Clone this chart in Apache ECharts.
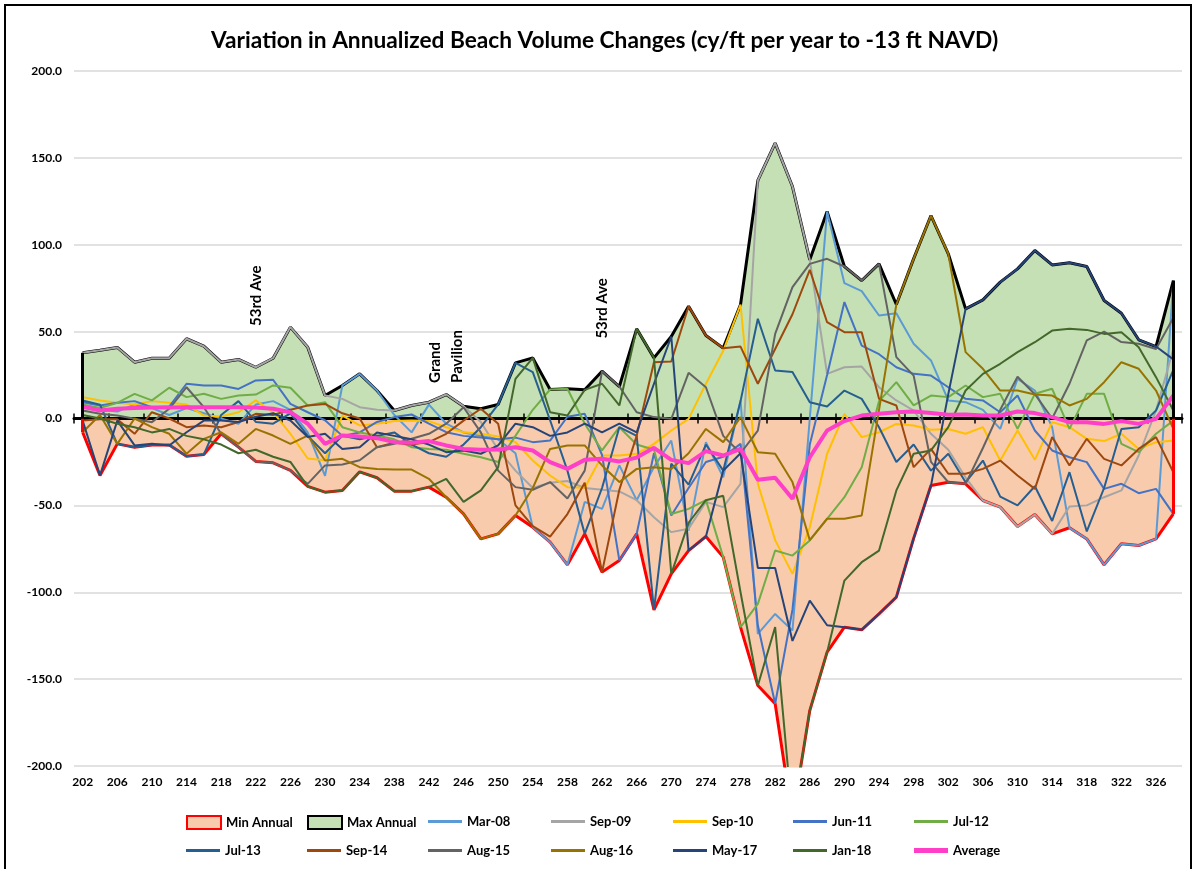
<!DOCTYPE html>
<html>
<head>
<meta charset="UTF-8">
<title>Annualized Beach Volume Changes</title>
<script src="https://cdn.jsdelivr.net/npm/echarts@6.0.0/dist/echarts.min.js"></script>
<style>
  html, body { margin: 0; padding: 0; overflow: hidden; background: #fff; }
  #frame { position: absolute; left: 4px; top: 4px; width: 1188px; height: 900px; border: 2px solid #000; box-sizing: border-box; }
  #chart1 { position: absolute; left: 0; top: 0; width: 1195px; height: 869px; }
</style>
</head>
<body>
<div id="frame"></div>
<div id="chart1"></div>
<script type="text/javascript">
// station numbers along the beach (category axis)
var stations = ['202','204','206','208','210','212','214','216','218','220',
  '222','224','226','228','230','232','234','236','238','240',
  '242','244','246','248','250','252','254','256','258','260',
  '262','264','266','268','270','272','274','276','278','280',
  '282','284','286','288','290','292','294','296','298','300',
  '302','304','306','308','310','312','314','316','318','320',
  '322','324','326','328'];

var yTicks = [-200, -150, -100, -50, 0, 50, 100, 150, 200];

// envelope series
var minAnnual = [-7.9, -32.8, -14.6, -16.5, -15.2, -15.2, -21.7, -20.7, -8.8, -16.5,
  -24.7, -25.5, -29.9, -39.1, -42.4, -41.4, -30.7, -34.1, -41.8, -41.8,
  -39.5, -45.3, -54.9, -69.3, -66.4, -55.8, -62.6, -71.2, -84.2, -66.4,
  -88.4, -81.7, -66.4, -110.1, -89.4, -76.0, -67.9, -79.8, -120.1, -153.7,
  -164.2, -230, -168.1, -134.5, -120.1, -121.6, -112.4, -102.8, -69, -38.6,
  -36.7, -37.6, -47.2, -51.0, -62.2, -55.3, -66.4, -62.9, -69.3, -84.2,
  -72.1, -73.1, -69.3, -54.9];
var maxAnnual = [37.8, 39.3, 40.9, 32.4, 34.7, 34.7, 45.9, 41.6, 32.4, 34.0,
  29.5, 34.7, 52.6, 41.0, 13.2, 19.0, 25.7, 16.1, 4.6, 7.5,
  9.4, 13.8, 7.1, 5.6, 8.1, 32.0, 34.9, 16.7, 17.1, 16.5,
  27.2, 18.4, 51.6, 34.9, 47.2, 64.6, 47.8, 40.5, 65.6, 137.0,
  158.5, 133.5, 91.3, 119.1, 87.5, 79.4, 89.0, 65.6, 92.0, 116.8,
  94.8, 63.1, 68.3, 78.5, 86.1, 96.7, 88.4, 89.6, 87.5, 67.9,
  60.6, 45.3, 41.4, 79.4];

// individual surveys
var mar08 = [6, 5, 4, 8, 6, 2, 6, 3, 0, -3,
  8, 10, 5, -8, -33, 19, 25.7, 16.1, 2, -8,
  8, -3, -8, -10, -12, -20, -62.6, -71.2, -84.2, -48,
  -52, -27, -47, -28, -12.7, -64.5, -13.6, -33.8, 10.4, -124,
  -112.5, -122, 0, 119.1, 77.9, 73.3, 59.3, 60.6, 43, 33.4,
  10.4, 9.4, 5, -6, 22.8, 16.1, -5, -62.9, -69.3, -84.2,
  -72.1, -73.1, -69.3, 79.4];
var sep09 = [37.8, 39.3, 40.9, 32.4, 34.7, 34.7, 45.9, 41.6, 32.4, 34.0,
  29.5, 34.7, 52.6, 41.0, 13.2, 11.3, 6.5, 5.0, 4.6, 7.5,
  9.4, 13.8, 7.1, -2, -18, -30, -40, -37, -36, -40,
  -41, -42, -47, -56.8, -65.4, -63.5, -48, -51, -37.6, 137.0,
  158.5, 133.5, 91.3, 25.7, 29.5, 29.9, 18, 10.4, 4.6, -8.8,
  -18, -34, -47.2, -51.0, -62.2, -55.3, -66.4, -50.6, -50, -45.3,
  -41.4, -21.3, 4.6, 40];
var sep10 = [12.3, 10.4, 9, 8, 10, 9, 8, 1.7, 1.1, 3.6,
  10.4, 3.6, -8.8, -23, -24, 1.7, -4, -3, -1.5, -1.2,
  -1.5, -5, -7.9, -8.8, -10.4, -13.6, -24.2, -32.8, -39.5, -39.9,
  -21.3, -21.3, -20.3, -14.6, -6.9, -0.2, 20, 39, 65.6, -37.6,
  -70, -89.4, -62.6, -20.3, 2.7, -10.7, -7.9, -3.1, -4, -6.5,
  -6, -8.8, -5, -24.2, -6.9, -23.8, -2.1, -5, -11.7, -13,
  -8.8, -17.5, -13.6, -12.7];
var jun11 = [9.4, 7.5, 9, 10, 6.5, 6.9, 20, 19, 19, 17,
  21.9, 22.3, 8.4, 3.6, -1, -10, -8, -2, 0.8, 2.3,
  -3, -7.9, -10, -11, -12, -11, -13.6, -12.7, 1, 2.7,
  -21, -81.7, -66.4, -20, -55.8, -40, -25, -22, -14.6, -119,
  -164.2, -110, -15, 25, 67, 42, 37, 29.5, 25.7, 24.7,
  18, 11.3, 10.4, 3.6, 13.2, -6.9, -18.4, -22.3, -25.1, -40.5,
  -37.6, -43, -40.5, -54.9];
var jul12 = [8, 6, 9, 14.2, 10.4, 17.7, 12.3, 14.2, 11.3, 13.2,
  13.8, 19, 17.7, 7.5, 9.4, -5, -8, -9.8, -12, -16.5,
  -17.5, -18, -20.3, -22.3, -25, -10, 5, 16.7, 17.1, -3,
  -18.4, -5, -15, -18, -55, -52, -47, -79.8, -120.1, -106.7,
  -76, -78.9, -70.2, -57.7, -45.3, -28, 10, 20.9, 7.5, 13.2,
  12.3, 19, 12.3, 14.2, -6, 14.2, 17.1, -6, 14.2, 14.2,
  -14.6, -19.4, -8.8, -1.2];
var jul13 = [10.4, 8, -14.6, -16.5, -15.2, -15.2, -21.7, -20.7, 2, 10,
  -2, -3, 3, -10, -20, -10, -12, -10, -8, -15,
  -20, -22, -15, -5, 8.1, 32, 26.7, -1, -30, -66.4,
  -40, -5, -10, -110.1, -26, -38, -15, -30, 10, 57.4,
  27.6, 26.7, 9.4, 6.9, 16.1, 11.3, -5, -25, -15, -30,
  -20.3, -36.7, -24.2, -45, -50, -39, -59, -30.9, -65, -40,
  -6, -5, 4.6, 28];
var sep14 = [-1.2, -0.5, -0.5, -8.8, 3.6, 0, -5, -4, -5, -2,
  2.7, 2, 5, 7.5, 8.4, 3, 0, -16.5, -14, -15,
  -13.6, -8.8, -1.2, 5.6, -3, -50, -62, -68, -55, -37,
  -88.4, -41, -10, 32.4, 32.8, 64.6, 47.8, 40.5, 41.4, 20,
  40, 60, 85.6, 55.4, 49.7, 49.7, 11.3, 7.5, -28, -17.5,
  -31.8, -31.8, -29, -24.2, -32.8, -40.5, -10.7, -27, -11.7, -23.2,
  -27, -17.5, -10.7, -30.9];
var aug15 = [4.6, 2.7, 1.7, -0.2, -2.1, 5.6, 18, 6.5, -8.8, -16.5,
  -24.7, -25.5, -29.9, -37.6, -27, -26.5, -24, -16.5, -14.6, -11.7,
  -8.8, -3, 6.5, -8, -30, -39.5, -41, -36.6, -46, -30,
  27.2, 18.4, 3.6, 0.8, -0.2, 26.3, 18, -10, -20, -7,
  48.7, 75.6, 89, 91.9, 87.5, 79.4, 89, 35.3, 24.7, -25,
  -36.7, -37.6, -17, 5, 24, 14, 0, 20, 45, 50,
  44, 43, 40, 58];
var aug16 = [-7.9, 2, -14.6, 0, -5, -8.8, -20.3, -11.7, -7.9, -14.6,
  -6, -9.8, -14.6, -9.8, -24.2, -23.2, -28, -29, -29.4, -29.4,
  -34.7, -45.3, -54.9, -69.3, -66.4, -55.8, -40, -17.5, -15.5, -15.5,
  -27, -36.6, -29, -28, -29, -20, -6, -13.6, 0.8, -19.4,
  -20.3, -36.6, -70, -57.7, -57.7, -55.8, 5, 65.6, 92, 116.8,
  94.8, 38.2, 28.6, 16.1, 16.1, 13.8, 13.2, 7.5, 11.3, 20.9,
  32.4, 28.6, 16.1, -6];
var may17 = [-1.2, -32.8, -1.2, -15.5, -14.6, -15.5, -7.9, -1.2, -1.2, -2,
  1, 3, -1.2, -10.7, -8.8, -17.5, -16.5, -8, -10, -12,
  -15, -19.4, -18.4, -20.3, -15.5, -3, -5, -10, -8, -3,
  -8, -3, -8, 20, 47.2, -76, -67.9, -30, -20, -86,
  -86, -128, -104.8, -119, -120.1, -121.6, -112.4, -102.8, -69, -38.6,
  14, 63.1, 68.3, 78.5, 86.1, 96.7, 88.4, 89.6, 87.5, 67.9,
  60.6, 45.3, 41.4, 34];
var jan18 = [2, 0, -3, -5, -8, -6, -10, -12, -15, -20,
  -18, -22, -25, -39.1, -42.4, -41.4, -30.7, -34.1, -41.8, -41.8,
  -39.5, -34.7, -48, -41.4, -28, 22.8, 34.9, 3.6, 1.7, 16.5,
  20, 7.5, 51.6, 34.9, -89.4, -60, -47, -44.5, -100, -153.7,
  -120, -230, -168.1, -134.5, -93.3, -82.7, -76, -41.4, -20.3, -18.4,
  -5, 16.1, 25.7, 31.5, 38.2, 43.9, 50.6, 51.6, 51, 48.7,
  49.7, 41, 23.8, 4.6];
var average = [6.9, 4.6, 5.6, 6.0, 6.3, 6.3, 6.5, 6.5, 6.5, 6.5,
  6.3, 5.6, 3.6, -3, -14.6, -9.8, -10.4, -11.3, -13.6, -14.0,
  -13.0, -15.5, -17.5, -18.0, -17.8, -16.5, -18.4, -25.1, -29.0, -23.8,
  -23.2, -24.7, -22.5, -16.9, -23.8, -25.7, -18.8, -21.3, -17.5, -35.3,
  -34.1, -46.2, -22.3, -6.9, -1.5, 1.7, 2.7, 3.6, 4.0, 3.1,
  2.1, 2.3, 1.7, 1.7, 4.0, 3.1, 0.8, -2.1, -2.1, -3.1,
  -1.5, -3.1, -0.2, 13.2];

var surveyNames = ['Mar-08', 'Sep-09', 'Sep-10', 'Jun-11', 'Jul-12', 'Jul-13',
  'Sep-14', 'Aug-15', 'Aug-16', 'May-17', 'Jan-18'];
var surveyData = [mar08, sep09, sep10, jun11, jul12, jul13, sep14, aug15, aug16, may17, jan18];
var surveyColors = ['#5B9BD5', '#A5A5A5', '#FFC000', '#4472C4', '#70AD47', '#255E91',
  '#9E480E', '#636363', '#997300', '#264478', '#43682B'];
var avgColor = '#FF3FC8';

var font = 'Lato, "Open Sans", sans-serif';
var chart1 = echarts.init(document.getElementById('chart1'));

// closing edges of an area at the first and last station, like the Excel outline
function edgeLines(values, color) {
    var first = stations[0], last = stations[stations.length - 1];
    return {
        silent: true,
        symbol: 'none',
        label: { show: false },
        lineStyle: { color: color, width: 3, type: 'solid' },
        data: [
            [{ coord: [first, 0] }, { coord: [first, values[0]] }],
            [{ coord: [last, 0] }, { coord: [last, values[values.length - 1]] }],
        ],
    };
}

var series = [
    {
        name: 'Min Annual',
        type: 'line',
        z: 1,
        data: minAnnual,
        symbol: 'none',
        lineStyle: { color: '#FF0000', width: 3 },
        itemStyle: { color: '#F8CBAD' },
        areaStyle: { color: '#F8CBAD', opacity: 1 },
        markLine: edgeLines(minAnnual, '#FF0000'),
    },
    {
        name: 'Max Annual',
        type: 'line',
        z: 1,
        data: maxAnnual,
        symbol: 'none',
        lineStyle: { color: '#000000', width: 3 },
        itemStyle: { color: '#C5E0B4' },
        areaStyle: { color: '#C5E0B4', opacity: 1 },
        markLine: edgeLines(maxAnnual, '#000000'),
    },
];
surveyNames.forEach(function (name, i) {
    series.push({
        name: name,
        type: 'line',
        z: 3,
        data: surveyData[i],
        symbol: 'none',
        lineStyle: { color: surveyColors[i], width: 2 },
        itemStyle: { color: surveyColors[i] },
    });
});
// street labels hang off the average series as rotated text
var noteLabel = {
    show: true,
    position: 'inside',
    rotate: 90,
    align: 'left',
    verticalAlign: 'middle',
    color: '#000',
    fontFamily: font,
    fontWeight: 'bold',
    fontSize: 15,
    lineHeight: 22,
};
series.push({
    name: 'Average',
    type: 'line',
    z: 4,
    data: average,
    symbol: 'none',
    lineStyle: { color: avgColor, width: 4 },
    itemStyle: { color: avgColor },
    markPoint: {
        symbol: 'circle',
        symbolSize: 0,
        silent: true,
        label: noteLabel,
        data: [
            { coord: ['222', 55], value: '53rd Ave', label: { formatter: '53rd Ave', offset: [-3, 0] } },
            { coord: ['244', 20.5], value: 'Grand', label: { formatter: 'Grand\nPavilion' } },
            { coord: ['262', 46], value: '53rd Ave', label: { formatter: '53rd Ave' } },
        ],
    },
});

// legend: one small legend per entry so the entries sit on a fixed column grid
var thinLine = 'path://M0,0L0,13ZM0,5L34,5L34,8L0,8Z';
var thickLine = 'path://M0,0L0,13ZM0,4L34,4L34,9L0,9Z';
function lineItem(name) {
    var i = surveyNames.indexOf(name);
    var c = i >= 0 ? surveyColors[i] : avgColor;
    return { name: name, icon: i >= 0 ? thinLine : thickLine, itemStyle: { color: c, borderWidth: 0 } };
}
var legendRows = [
    [
        { name: 'Min Annual', icon: 'rect', itemStyle: { color: '#F8CBAD', borderColor: '#FF0000', borderWidth: 2 } },
        { name: 'Max Annual', icon: 'rect', itemStyle: { color: '#C5E0B4', borderColor: '#000000', borderWidth: 2 } },
        lineItem('Mar-08'), lineItem('Sep-09'), lineItem('Sep-10'), lineItem('Jun-11'), lineItem('Jul-12'),
    ],
    ['Jul-13', 'Sep-14', 'Aug-15', 'Aug-16', 'May-17', 'Jan-18', 'Average'].map(lineItem),
];
var legendCols = [186, 307, 428, 551, 673, 793, 914];
var legendTops = [815, 844];
var legends = [];
legendRows.forEach(function (row, r) {
    row.forEach(function (item, c) {
        legends.push({
            left: legendCols[c],
            top: legendTops[r],
            padding: 0,
            itemWidth: 34,
            itemHeight: 13,
            selectedMode: false,
            data: [item],
            textStyle: { color: '#000', fontFamily: font, fontWeight: 'bold', fontSize: 13 },
        });
    });
});

var option = {
    animation: false,
    title: {
        text: 'Variation in Annualized Beach Volume Changes (cy/ft per year to -13 ft NAVD)',
        left: 206,
        top: 24,
        textStyle: { fontFamily: font, fontWeight: 'bold', fontSize: 22.7, color: '#000' },
    },
    legend: legends,
    grid: { left: 74, right: 13, top: 71, bottom: 103 },
    xAxis: [
        {
            // labels along the bottom
            type: 'category',
            data: stations,
            boundaryGap: true,
            position: 'bottom',
            axisLine: { show: false, onZero: false },
            axisTick: { show: false },
            axisLabel: { interval: 1, margin: 10, color: '#000', fontFamily: font, fontWeight: 'bold', fontSize: 12 },
        },
        {
            // heavy zero line, ticks pointing up
            type: 'category',
            data: stations,
            boundaryGap: true,
            position: 'bottom',
            z: 2,
            axisLine: { show: true, onZero: true, onZeroAxisIndex: 0, lineStyle: { color: '#000', width: 3 } },
            axisTick: { show: true, inside: true, length: 5, lineStyle: { color: '#000', width: 1.5 } },
            axisLabel: { show: false },
        },
        {
            // same zero line, ticks pointing down
            type: 'category',
            data: stations,
            boundaryGap: true,
            position: 'bottom',
            z: 2,
            axisLine: { show: false, onZero: true, onZeroAxisIndex: 0 },
            axisTick: { show: true, inside: false, length: 5, lineStyle: { color: '#000', width: 1.5 } },
            axisLabel: { show: false },
        },
    ],
    yAxis: {
        type: 'value',
        min: yTicks[0],
        max: yTicks[yTicks.length - 1],
        interval: 50,
        axisLine: { show: false },
        axisTick: { show: false },
        axisLabel: {
            margin: 12,
            color: '#000',
            fontFamily: font,
            fontWeight: 'bold',
            fontSize: 12,
            formatter: function (v) { return v.toFixed(1); },
        },
        splitLine: { lineStyle: { color: '#D9D9D9', width: 1.5 } },
    },
    series: series,
};
chart1.setOption(option);
</script>
</body>
</html>
